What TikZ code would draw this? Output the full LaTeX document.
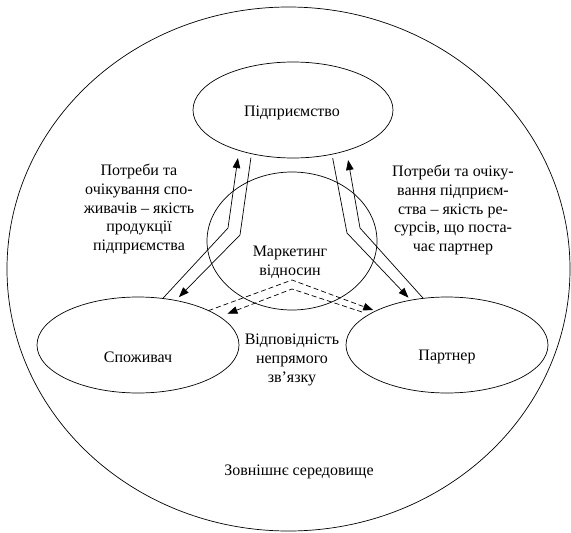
\documentclass[tikz,border=0pt]{standalone}
\usepackage{fontspec}
\setmainfont{Liberation Serif}
\usetikzlibrary{shapes.geometric,arrows.meta}
\begin{document}
\begin{tikzpicture}[x=1pt,y=-1pt,
  oval/.style={draw, ellipse, inner sep=0pt, outer sep=0pt, line width=0.7pt},
  caption/.style={font=\fontsize{16}{18.7}\selectfont, align=center, inner sep=0pt},
  flow/.style={line width=0.7pt, -{Triangle[length=10pt,width=7.5pt]}},
  hint/.style={flow, dash pattern=on 5pt off 3pt},
]
\path[use as bounding box] (0,0) rectangle (571,533);

% environment and the four parties
\node[oval, minimum width=563pt, minimum height=524pt] (env) at (288.5,269) {};
\node[oval, minimum width=200pt, minimum height=96pt] (T) at (293,110) {};
\node[oval, minimum width=170pt, minimum height=138pt] (M) at (292,241) {};
\node[oval, minimum width=202pt, minimum height=96pt] (S) at (138,345) {};
\node[oval, minimum width=202pt, minimum height=96pt] (P) at (447,345) {};

% labels
\node[caption] (tT) at (292,113) {Підприємство};
\node[caption] (tS) at (138,357) {Споживач};
\node[caption] (tP) at (447,357) {Партнер};
\node[caption] (tM) at (290,262.5) {Маркетинг\\відносин};
\node[caption] (needs) at (139,209) {Потреби та\\очікування спо-\\живачів – якість\\продукції\\підприємства};
\node[caption] (supply) at (453,210) {Потреби та очіку-\\вання підприєм-\\ства – якість ре-\\сурсів, що поста-\\чає партнер};
\node[caption] (indirect) at (292,360) {Відповідність\\непрямого\\зв’язку};
\node[caption] (outside) at (299,472) {Зовнішнє середовище};

% bend points of the paired links
\coordinate (lb1) at (228,228);
\coordinate (lb2) at (240,235);
\coordinate (rb1) at (347,233);
\coordinate (rb2) at (360,228);
\coordinate (apexU) at (292,280);
\coordinate (apexL) at (292,289);

% consumer <-> enterprise
\draw[flow] (S.62.7) -- (lb1) -- ([yshift=-8pt]T.216);
\draw[flow] ([yshift=-4pt]T.226.9) -- (lb2) -- ([yshift=4pt]S.47.8);

% enterprise <-> partner
\draw[flow] ([yshift=-4pt]T.-48.6) -- (rb1) -- ([yshift=3pt]P.131.4);
\draw[flow] (P.117.3) -- (rb2) -- ([yshift=-10pt]T.-36);

% indirect consumer <-> partner links
\draw[hint] (S.26.3) -- (apexU) -- ([yshift=2pt]P.156.8);
\draw[hint] ([yshift=7pt]P.163.7) -- (apexL) -- ([yshift=9pt]S.14.3);
\end{tikzpicture}
\end{document}
